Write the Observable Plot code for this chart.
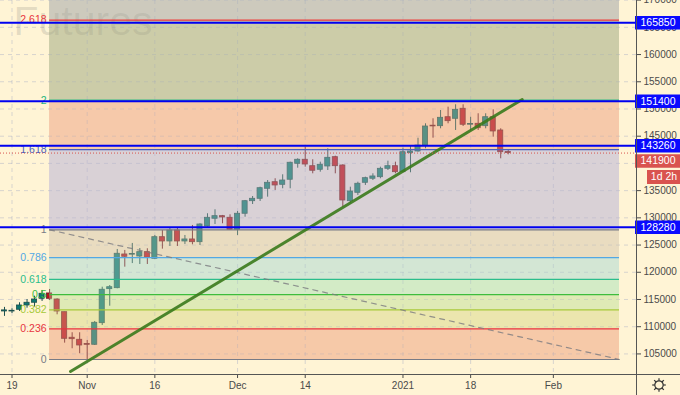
<!DOCTYPE html>
<html><head><meta charset="utf-8">
<script src="https://cdn.jsdelivr.net/npm/d3@7"></script>
<script src="https://cdn.jsdelivr.net/npm/@observablehq/plot@0.6"></script>
<style>
html,body{margin:0;padding:0;background:#fff4d5;}
#chart{width:680px;height:395px;overflow:hidden;}
</style></head><body><div id="chart"></div>
<script>
// ---- data ----
const dates = ["2020-10-16","2020-10-19","2020-10-20","2020-10-21","2020-10-22","2020-10-23","2020-10-26","2020-10-27","2020-10-28","2020-10-29","2020-10-30",
"2020-11-02","2020-11-03","2020-11-05","2020-11-06","2020-11-09","2020-11-10","2020-11-11","2020-11-12","2020-11-13","2020-11-16","2020-11-17","2020-11-18","2020-11-19","2020-11-20","2020-11-23","2020-11-24","2020-11-25","2020-11-26","2020-11-27","2020-11-30",
"2020-12-01","2020-12-02","2020-12-03","2020-12-04","2020-12-07","2020-12-08","2020-12-09","2020-12-10","2020-12-11","2020-12-14","2020-12-15","2020-12-16","2020-12-17","2020-12-18","2020-12-21","2020-12-22","2020-12-23","2020-12-24","2020-12-25","2020-12-28","2020-12-29","2020-12-30",
"2021-01-04","2021-01-05","2021-01-06","2021-01-08","2021-01-11","2021-01-12","2021-01-13","2021-01-14","2021-01-15","2021-01-18","2021-01-19","2021-01-20","2021-01-21","2021-01-22","2021-01-25"];
const opens = [112800,112850,113110,113900,114400,115130,116110,115000,112670,107970,107600,
106750,106680,110650,116900,117080,123270,123250,122900,123700,122480,126450,125660,127680,125660,126030,125530,128410,129830,130310,130010,
127810,130750,133060,133500,135340,136550,136070,137000,139930,140670,139490,138830,139440,141150,139620,133060,134600,136440,137180,137470,139010,139490,
138390,141880,142190,143290,146900,146840,148490,148200,150040,147150,147280,146840,148490,146050,142100];
const highs = [113550,113300,114400,114990,115610,116660,116840,115130,112670,108890,108890,
107470,110960,117260,117570,124190,124010,125300,124370,124320,126760,127680,128170,128170,126760,128600,128910,130750,131480,130440,130560,
131170,133190,133920,135630,136860,137180,137910,140230,140850,142980,140670,140230,142690,141330,139750,135630,136550,137470,138090,139310,140410,140230,
142800,143290,144630,147280,148200,149720,150330,150770,150770,148490,149120,149120,149850,146360,142380];
const lows = [111900,112430,112800,113400,113590,114640,114820,112190,106980,105950,105030,
103980,106550,110230,113770,116970,120940,121600,121430,121430,122350,124250,124740,124740,125110,125050,124920,128280,128780,128910,127680,
126760,130120,132450,133010,133800,135030,135340,135340,139120,139310,138090,138390,138700,138090,131960,132580,134110,135950,136860,137180,138700,138090,
138280,138280,142060,142690,144630,146360,147280,146050,146780,145920,146050,146360,144820,140850,141580];
const closes = [113000,112870,113900,114400,115000,116050,115130,112800,107780,107710,106550,
106730,110720,116790,117260,123400,122850,123350,123700,122660,126450,125660,127680,125660,126030,125530,128780,130010,130310,130070,127810,
130750,133060,133500,135450,136440,135950,136860,140120,140670,139800,138650,139750,141030,139490,133190,134840,136260,137290,137600,139010,139490,138390,
142060,142190,143290,146780,146830,148380,147760,149850,147100,147200,146470,148490,145870,142060,141900];

const tickIdx = [1, 11, 20, 31, 40, 53, 62, 73];
const tickLabels = ["19","Nov","16","Dec","14","2021","18","Feb"];
const priceTicks = [105000,110000,115000,120000,125000,130000,135000,140000,145000,150000,155000,160000,165000,170000];

const fibLevels = [0,0.236,0.382,0.5,0.618,0.786,1,1.618,2,2.618,3.618];
const fibLabels = ["0","0.236","0.382","0.5","0.618","0.786","1","1.618","2","2.618"];
const fibLineColors = ["#787b86","#e8363f","#a6c93a","#3dbd3d","#2bbd8c","#52a8e4","#787b86","#4a5fc0","#26b47e","#e8363f","#9c27b0"];
const fibZoneColors = ["#f6c9a9","#ebe6ae","#dfeab6","#d3ebc6","#d3e6d4","#e9dcc0","#d9d1d6","#f6c9aa","#cccca9","#cdcbbd"];
const fibAnchorIdx = [6, 81.8];      // start / end bar of the fib drawing
const fibAnchorVal = [127800, 103980]; // level 1 / level 0 prices

const trendIdx = [8.78, 68.86];
const trendVal = [101780, 151740];

const hLevels = [165850, 151400, 143260, 128280];
const lastPrice = 141900;
const countdown = "1d 2h";

const xView = [-0.53, 84.06];
const yView = [101220, 169930];

// ---- derived ----
const candles = dates.map((d, i) => {
  const o = opens[i], c = closes[i];
  let lo = Math.min(o, c), hi = Math.max(o, c);
  if (hi - lo < 130) { const m = (hi + lo) / 2; lo = m - 65; hi = m + 65; }
  return {i, date: d, o, h: highs[i], l: lows[i], c, lo, hi, up: c >= o};
});
const f0 = fibAnchorVal[1], f1 = fibAnchorVal[0];
const fibVal = fibLevels.map(l => f0 + l * (f1 - f0));
const zones = fibZoneColors.map((col, k) => ({lo: fibVal[k], hi: fibVal[k + 1], col}));
const fibs = fibLabels.map((t, k) => ({t, v: fibVal[k], col: fibLineColors[k]}));
const diag = [{x: fibAnchorIdx[0], y: f1}, {x: fibAnchorIdx[1], y: f0}];
const trend = trendIdx.map((x, k) => ({x, y: trendVal[k]}));

const W = 680, H = 395, mR = 44, mB = 21;
const pxPerIdx = (W - mR) / (xView[1] - xView[0]);
const boxX2 = xView[1] + mR / pxPerIdx;
const boxX1 = xView[1] - 1 / pxPerIdx;
const boxMid = (boxX1 + boxX2) / 2;
const cdX1 = xView[1] + 11 / pxPerIdx;
const cdMid = (cdX1 + boxX2) / 2;

const upFill = "#0f7771", upStroke = "#1d4f4c";
const dnFill = "#b5121f", dnStroke = "#6a1a20";
const gridStyle = {stroke: "#8b97c0", strokeOpacity: 0.35, strokeDasharray: "4,4"};

const chart = Plot.plot({
  width: W, height: H,
  marginLeft: 0, marginRight: mR, marginTop: 0, marginBottom: mB,
  x: {type: "linear", domain: xView, axis: null},
  y: {type: "linear", domain: yView, axis: null},
  style: {background: "transparent", fontFamily: "'Liberation Sans', Arial, sans-serif", fontSize: "10px", color: "#4a4a4a", overflow: "visible"},
  marks: [
    Plot.rect(zones, {x1: fibAnchorIdx[0], x2: fibAnchorIdx[1], y1: "lo", y2: "hi", fill: "col", clip: true}),
    Plot.ruleX(tickIdx, {...gridStyle}),
    Plot.ruleY(priceTicks, {...gridStyle}),
    Plot.text(["Futures"], {frameAnchor: "top-left", dx: 13, dy: 5, text: d => d, textAnchor: "start", lineAnchor: "top", fontSize: 41, fill: "#555", fillOpacity: 0.16}),
    Plot.ruleX(candles, {x: "i", y1: "l", y2: "h", stroke: d => d.up ? upStroke : dnStroke, strokeWidth: 1}),
    Plot.rect(candles, {x1: d => d.i - 0.34, x2: d => d.i + 0.34, y1: "lo", y2: "hi", fill: d => d.up ? upFill : dnFill, stroke: d => d.up ? upStroke : dnStroke, strokeWidth: 0.8}),
    Plot.rect(zones, {x1: fibAnchorIdx[0], x2: fibAnchorIdx[1], y1: "lo", y2: "hi", fill: "col", fillOpacity: 0.32, clip: true}),
    Plot.ruleY(fibs, {y: "v", x1: fibAnchorIdx[0], x2: fibAnchorIdx[1], stroke: "col", strokeWidth: 1.2}),
    Plot.line(diag, {x: "x", y: "y", stroke: "#7a7a80", strokeWidth: 1.2, strokeDasharray: "5,5", strokeOpacity: 0.8}),
    Plot.text(fibs, {x: fibAnchorIdx[0], y: "v", text: "t", fill: "col", textAnchor: "end", dx: -3, fontSize: 10.5}),
    Plot.line(trend, {x: "x", y: "y", stroke: "#3a7a1c", strokeWidth: 3, strokeOpacity: 0.9}),
    Plot.ruleY([lastPrice], {stroke: "#d9534f", strokeDasharray: "1,2", strokeWidth: 1}),
    Plot.ruleY(hLevels, {stroke: "#0000f0", strokeWidth: 2}),
    Plot.axisY({anchor: "right", ticks: priceTicks, tickFormat: d => String(d), tickSize: 4, tickPadding: 3, fontSize: 10}),
    Plot.axisX({anchor: "bottom", ticks: tickIdx, tickFormat: d => tickLabels[tickIdx.indexOf(d)], tickSize: 4, tickPadding: 3, fontSize: 10}),
    Plot.ruleY(hLevels, {x1: boxX1, x2: boxX2, stroke: "#0a0aff", strokeWidth: 13.5}),
    Plot.text(hLevels, {x: boxMid, y: d => d, text: d => String(d), fill: "white", fontSize: 10.5}),
    Plot.ruleY([lastPrice], {x1: boxX1, x2: boxX2, dy: 8, stroke: "#d9534f", strokeWidth: 13.5}),
    Plot.text([lastPrice], {x: boxMid, y: d => d, dy: 8, text: d => String(d), fill: "white", fontSize: 10.5}),
    Plot.ruleY([lastPrice], {x1: cdX1, x2: boxX2, dy: 24, stroke: "#d9534f", strokeWidth: 14}),
    Plot.text([countdown], {x: cdMid, y: lastPrice, dy: 24, text: d => d, fill: "white", fontSize: 10.5})
  ]
});
document.getElementById("chart").appendChild(chart);

// axis separators and settings icon
const svg = d3.select(chart);
svg.append("line").attr("x1", 0).attr("x2", W).attr("y1", H - mB + 0.5).attr("y2", H - mB + 0.5).attr("stroke", "#555").attr("stroke-width", 1);
svg.append("line").attr("x1", W - mR + 0.5).attr("x2", W - mR + 0.5).attr("y1", 0).attr("y2", H).attr("stroke", "#555").attr("stroke-width", 1);
const g = svg.append("g").attr("transform", "translate(659,385)").attr("stroke", "#333").attr("fill", "none").attr("stroke-width", 1.2);
g.append("circle").attr("r", 4.2);
for (let k = 0; k < 8; k++) {
  const a = k * Math.PI / 4;
  g.append("line").attr("x1", 4.2 * Math.cos(a)).attr("y1", 4.2 * Math.sin(a)).attr("x2", 6.8 * Math.cos(a)).attr("y2", 6.8 * Math.sin(a));
}
</script></body></html>
